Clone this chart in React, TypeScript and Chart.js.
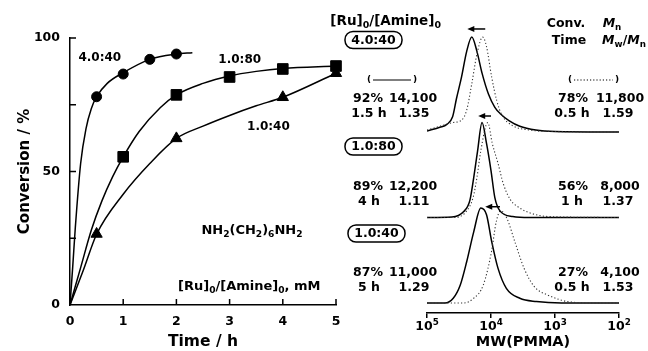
import React, { useEffect, useRef } from 'react';
import { Chart, registerables } from 'chart.js';

Chart.register(...registerables);

const FONT = '"DejaVu Sans", "Liberation Sans", Arial, sans-serif';

// ---------- Left panel: conversion vs time ----------
const timeTickValues = [0, 1, 2, 3, 4, 5];
const convTickValues = [0, 25, 50, 75, 100];
const convTickLabels = ['0', '', '50', '', '100'];

const time4040 = [0.5, 1, 1.5, 2];
const conv4040 = [78, 86.5, 92, 94];
const time1080 = [1, 2, 3, 4, 5];
const conv1080 = [55.5, 78.7, 85.4, 88.4, 89.5];
const time1040 = [0.5, 2, 4, 5];
const conv1040 = [26.6, 62.4, 77.8, 86.8];

// fitted curves
const fitTime4040 = [0, 0.05, 0.1, 0.2, 0.3, 0.4, 0.5, 0.7, 1, 1.5, 2, 2.3];
const fitConv4040 = [0, 14, 29, 53, 66, 73.5, 78, 83, 87, 92, 94, 94.5];
const fitTime1080 = [0, 0.2, 0.4, 0.6, 0.8, 1, 1.3, 1.7, 2, 2.5, 3, 3.5, 4, 5];
const fitConv1080 = [0, 14, 28, 39, 48, 55.5, 65, 74, 78.7, 83, 85.8, 87.5, 88.6, 89.5];
const fitTime1040 = [0, 0.25, 0.5, 1, 1.5, 2, 2.5, 3, 3.5, 4, 5];
const fitConv1040 = [0, 13, 26.5, 41.5, 53, 62.4, 67, 71, 74.6, 77.8, 86.8];

// ---------- Right panel: GPC traces ----------
const mwTickValues = [5, 4, 3, 2];
const panelNames = ['4.0:40', '1.0:80', '1.0:40'];
const panelBaseline = [2, 1, 0];
const peakHeight = 1.11;

// solid = later sample, dotted = earlier sample
const topSolidLogM = [5.0, 4.8, 4.69, 4.6, 4.54, 4.46, 4.38, 4.3, 4.22, 4.14, 4.04, 3.94, 3.85, 3.72, 3.55, 3.3, 3.0, 2.0];
const topSolidH = [0.01, 0.05, 0.08, 0.16, 0.35, 0.58, 0.85, 1.0, 0.85, 0.62, 0.4, 0.26, 0.19, 0.12, 0.06, 0.02, 0.005, 0];
const topDotLogM = [5.0, 4.8, 4.59, 4.46, 4.38, 4.3, 4.22, 4.13, 4.07, 3.99, 3.91, 3.83, 3.67, 3.39, 3.0, 2.0];
const topDotH = [0.02, 0.06, 0.1, 0.125, 0.23, 0.51, 0.82, 1.0, 0.9, 0.58, 0.33, 0.18, 0.07, 0.02, 0.005, 0];

const midSolidLogM = [5.0, 4.61, 4.43, 4.33, 4.27, 4.21, 4.14, 4.07, 4.0, 3.94, 3.86, 3.66, 3.4, 2.0];
const midSolidH = [0, 0.005, 0.06, 0.18, 0.42, 0.7, 1.0, 0.78, 0.495, 0.21, 0.07, 0.01, 0, 0];
const midDotLogM = [5.0, 4.55, 4.38, 4.28, 4.22, 4.16, 4.05, 3.98, 3.89, 3.81, 3.7, 3.55, 3.4, 3.1, 2.0];
const midDotH = [0, 0, 0.07, 0.21, 0.42, 0.7, 1.0, 0.78, 0.57, 0.36, 0.19, 0.1, 0.05, 0.01, 0];

const botSolidLogM = [5.0, 4.72, 4.59, 4.48, 4.38, 4.27, 4.16, 4.07, 3.99, 3.89, 3.76, 3.55, 3.29, 2.9, 2.0];
const botSolidH = [0, 0, 0.05, 0.19, 0.435, 0.75, 1.0, 0.93, 0.65, 0.365, 0.155, 0.05, 0.015, 0, 0];
const botDotLogM = [5.0, 4.43, 4.27, 4.12, 3.99, 3.92, 3.85, 3.75, 3.63, 3.48, 3.32, 3.1, 2.8, 2.38, 2.0];
const botDotH = [0, 0, 0.05, 0.19, 0.55, 0.85, 0.97, 0.89, 0.65, 0.36, 0.17, 0.08, 0.015, 0, 0];

// arrows (shift of the peak), in logM, and level above each baseline
const arrowFromLogM = [4.09, 4.0, 3.86];
const arrowToLogM = [4.37, 4.2, 4.09];
const arrowLevel = [1.205, 1.187, 1.126];

// results
const solidConv = ['92%', '89%', '87%'];
const solidMn = ['14,100', '12,200', '11,000'];
const solidTime = ['1.5 h', '4 h', '5 h'];
const solidPdi = ['1.35', '1.11', '1.29'];
const dotConv = ['78%', '56%', '27%'];
const dotMn = ['11,800', '8,000', '4,100'];
const dotTime = ['0.5 h', '1 h', '0.5 h'];
const dotPdi = ['1.59', '1.37', '1.53'];

type Seg = { t: string; s?: 'sub' | 'sup'; i?: boolean };

function segFont(seg: Seg, size: number) {
  const sz = seg.s ? size * 0.7 : size;
  return `${seg.i ? 'italic ' : ''}bold ${sz}px ${FONT}`;
}

function drawRich(ctx: CanvasRenderingContext2D, segs: Seg[], x: number, y: number, align: 'left' | 'center' | 'right', size: number) {
  let w = 0;
  for (const s of segs) {
    ctx.font = segFont(s, size);
    w += ctx.measureText(s.t).width;
  }
  let cx = align === 'left' ? x : align === 'center' ? x - w / 2 : x - w;
  ctx.textAlign = 'left';
  ctx.textBaseline = 'middle';
  ctx.fillStyle = '#000';
  for (const s of segs) {
    ctx.font = segFont(s, size);
    const dy = s.s === 'sub' ? size * 0.32 : s.s === 'sup' ? -size * 0.38 : 0;
    ctx.fillText(s.t, cx, y + dy);
    cx += ctx.measureText(s.t).width;
  }
}

function drawText(ctx: CanvasRenderingContext2D, t: string, x: number, y: number, size: number, align: CanvasTextAlign = 'center') {
  ctx.font = `bold ${size}px ${FONT}`;
  ctx.textAlign = align;
  ctx.textBaseline = 'middle';
  ctx.fillStyle = '#000';
  ctx.fillText(t, x, y);
}

const leftDecor = {
  id: 'leftDecor',
  afterDraw(chart: any) {
    const { ctx, chartArea } = chart;
    const x = chart.scales.x;
    const y = chart.scales.y;
    ctx.save();
    ctx.strokeStyle = '#000';
    ctx.lineWidth = 1.5;
    ctx.beginPath();
    for (const t of x.ticks) {
      if (t.value === 0) continue;
      const px = x.getPixelForValue(t.value);
      ctx.moveTo(px, chartArea.bottom);
      ctx.lineTo(px, chartArea.bottom - 6);
    }
    for (const t of y.ticks) {
      if (t.value === 0) continue;
      const py = y.getPixelForValue(t.value);
      ctx.moveTo(chartArea.left, py);
      ctx.lineTo(chartArea.left + 6, py);
    }
    ctx.stroke();
    const at = (xv: number, yv: number) => [x.getPixelForValue(xv), y.getPixelForValue(yv)];
    let p = at(0.56, 92.5);
    drawText(ctx, '4.0:40', p[0], p[1], 12);
    p = at(3.19, 91.8);
    drawText(ctx, '1.0:80', p[0], p[1], 12);
    p = at(3.73, 66.7);
    drawText(ctx, '1.0:40', p[0], p[1], 12);
    p = at(3.42, 28);
    drawRich(ctx, [{ t: 'NH' }, { t: '2', s: 'sub' }, { t: '(CH' }, { t: '2', s: 'sub' }, { t: ')' }, { t: '6', s: 'sub' }, { t: 'NH' }, { t: '2', s: 'sub' }], p[0], p[1], 'center', 13);
    p = at(3.37, 6.8);
    drawRich(ctx, [{ t: '[Ru]' }, { t: '0', s: 'sub' }, { t: '/[Amine]' }, { t: '0', s: 'sub' }, { t: ', mM' }], p[0], p[1], 'center', 13);
    ctx.restore();
  },
};

function roundBox(ctx: CanvasRenderingContext2D, x0: number, y0: number, x1: number, y1: number, r: number) {
  ctx.beginPath();
  ctx.moveTo(x0 + r, y0);
  ctx.lineTo(x1 - r, y0);
  ctx.arcTo(x1, y0, x1, y0 + r, r);
  ctx.lineTo(x1, y1 - r);
  ctx.arcTo(x1, y1, x1 - r, y1, r);
  ctx.lineTo(x0 + r, y1);
  ctx.arcTo(x0, y1, x0, y1 - r, r);
  ctx.lineTo(x0, y0 + r);
  ctx.arcTo(x0, y0, x0 + r, y0, r);
  ctx.closePath();
  ctx.stroke();
}

const rightDecor = {
  id: 'rightDecor',
  afterDraw(chart: any) {
    const { ctx, chartArea } = chart;
    const x = chart.scales.x;
    const y = chart.scales.y;
    ctx.save();
    for (const v of mwTickValues) {
      const px = x.getPixelForValue(v);
      drawRich(ctx, [{ t: '10' }, { t: String(v), s: 'sup' }], px, chartArea.bottom + 14, 'center', 12.5);
    }
    ctx.strokeStyle = '#000';
    ctx.fillStyle = '#000';
    ctx.lineWidth = 1.5;
    for (let i = 0; i < 3; i++) {
      const yy = y.getPixelForValue(panelBaseline[i] + arrowLevel[i]);
      const x1 = x.getPixelForValue(arrowFromLogM[i]);
      const x2 = x.getPixelForValue(arrowToLogM[i]);
      ctx.beginPath();
      ctx.moveTo(x1, yy);
      ctx.lineTo(x2 + 5, yy);
      ctx.stroke();
      ctx.beginPath();
      ctx.moveTo(x2, yy);
      ctx.lineTo(x2 + 7, yy - 3);
      ctx.lineTo(x2 + 7, yy + 3);
      ctx.closePath();
      ctx.fill();
    }
    drawRich(ctx, [{ t: '[Ru]' }, { t: '0', s: 'sub' }, { t: '/[Amine]' }, { t: '0', s: 'sub' }], 441, 21, 'right', 13.5);
    drawText(ctx, 'Conv.', 566, 24, 12.5);
    drawRich(ctx, [{ t: 'M', i: true }, { t: 'n', s: 'sub' }], 612, 24, 'center', 12.5);
    drawText(ctx, 'Time', 569, 41, 12.5);
    drawRich(ctx, [{ t: 'M', i: true }, { t: 'w', s: 'sub' }, { t: '/' }, { t: 'M', i: true }, { t: 'n', s: 'sub' }], 624, 41, 'center', 12.5);
    ctx.lineWidth = 1.2;
    drawText(ctx, '(', 369, 80, 9);
    drawText(ctx, ')', 415, 80, 9);
    ctx.beginPath();
    ctx.moveTo(373, 80);
    ctx.lineTo(411, 80);
    ctx.stroke();
    drawText(ctx, '(', 570, 80, 9);
    drawText(ctx, ')', 617, 80, 9);
    ctx.save();
    ctx.setLineDash([1.2, 2]);
    ctx.beginPath();
    ctx.moveTo(574, 80);
    ctx.lineTo(613, 80);
    ctx.stroke();
    ctx.restore();
    const boxY = [40, 146.5, 233.5];
    const boxX = [373.5, 373.5, 376.5];
    const row1 = [99, 187, 273];
    const row2 = [114, 202, 288];
    ctx.lineWidth = 1.5;
    for (let i = 0; i < 3; i++) {
      roundBox(ctx, boxX[i] - 28.5, boxY[i] - 8.5, boxX[i] + 28.5, boxY[i] + 8.5, 8);
      drawText(ctx, panelNames[i], boxX[i], boxY[i] + 0.5, 12.5);
      drawText(ctx, solidConv[i], 368, row1[i], 12.5);
      drawText(ctx, solidMn[i], 413, row1[i], 12.5);
      drawText(ctx, solidTime[i], 369, row2[i], 12.5);
      drawText(ctx, solidPdi[i], 414, row2[i], 12.5);
      drawText(ctx, dotConv[i], 573, row1[i], 12.5);
      drawText(ctx, dotMn[i], 620, row1[i], 12.5);
      drawText(ctx, dotTime[i], 572, row2[i], 12.5);
      drawText(ctx, dotPdi[i], 618, row2[i], 12.5);
    }
    ctx.restore();
  },
};

function trace(logM: number[], h: number[], base: number) {
  return logM.map((m, i) => ({ x: m, y: base + peakHeight * h[i] }));
}

function pts(xs: number[], ys: number[]) {
  return xs.map((v, i) => ({ x: v, y: ys[i] }));
}

export default function App() {
  const leftRef = useRef<HTMLCanvasElement>(null);
  const rightRef = useRef<HTMLCanvasElement>(null);

  useEffect(() => {
    document.body.style.margin = '0';
    document.body.style.background = '#fff';
    const curve = (data: any[]) => ({
      data,
      showLine: true,
      borderColor: '#000',
      borderWidth: 1.5,
      pointRadius: 0,
      cubicInterpolationMode: 'monotone',
      clip: false,
    });
    const marks = (data: any[], style: string, r: number) => ({
      data,
      showLine: false,
      pointStyle: style,
      pointRadius: r,
      backgroundColor: '#000',
      borderColor: '#000',
      borderWidth: 1,
      clip: false,
    });
    const left = new Chart(leftRef.current!, {
      type: 'scatter',
      data: {
        datasets: [
          curve(pts(fitTime4040, fitConv4040)),
          curve(pts(fitTime1080, fitConv1080)),
          curve(pts(fitTime1040, fitConv1040)),
          marks(pts(time4040, conv4040), 'circle', 5),
          marks(pts(time1080, conv1080), 'rect', 7.5),
          marks(pts(time1040, conv1040), 'triangle', 6.5),
        ] as any,
      },
      options: {
        animation: false,
        responsive: false,
        devicePixelRatio: 1,
        events: [],
        layout: { padding: { left: 0, top: 38, right: 312, bottom: 0 } },
        plugins: { legend: { display: false }, tooltip: { enabled: false } },
        scales: {
          x: {
            type: 'linear',
            min: 0,
            max: 5,
            afterBuildTicks: (s: any) => { s.ticks = timeTickValues.map((v) => ({ value: v })); },
            afterFit: (s: any) => { s.height = 46; },
            grid: { display: false, drawTicks: false },
            border: { display: true, color: '#000', width: 1.5 },
            ticks: { color: '#000', padding: 9, font: { family: FONT, size: 12.5, weight: 'bold' }, maxRotation: 0, autoSkip: false },
            title: { display: true, text: 'Time / h', color: '#000', padding: { top: 0, bottom: 0 }, font: { family: FONT, size: 15.5, weight: 'bold' } },
          },
          y: {
            type: 'linear',
            min: 0,
            max: 100,
            afterBuildTicks: (s: any) => { s.ticks = convTickValues.map((v) => ({ value: v })); },
            afterFit: (s: any) => { s.width = 70; },
            grid: { display: false, drawTicks: false },
            border: { display: true, color: '#000', width: 1.5 },
            ticks: {
              color: '#000',
              padding: 10,
              autoSkip: false,
              font: { family: FONT, size: 12.5, weight: 'bold' },
              callback: (v: any) => convTickLabels[convTickValues.indexOf(Number(v))] ?? '',
            },
            title: { display: true, text: 'Conversion / %', color: '#000', padding: { top: 16, bottom: 0 }, font: { family: FONT, size: 15, weight: 'bold' } },
          },
        },
      } as any,
      plugins: [leftDecor],
    });

    const solid = (data: any[]) => ({
      data,
      showLine: true,
      borderColor: '#000',
      borderWidth: 1.5,
      pointRadius: 0,
      cubicInterpolationMode: 'monotone',
    });
    const dotted = (data: any[]) => ({
      data,
      showLine: true,
      borderColor: '#333',
      borderWidth: 1.1,
      borderDash: [1.2, 2.2],
      pointRadius: 0,
      cubicInterpolationMode: 'monotone',
    });
    const right = new Chart(rightRef.current!, {
      type: 'scatter',
      data: {
        datasets: [
          dotted(trace(topDotLogM, topDotH, panelBaseline[0])),
          solid(trace(topSolidLogM, topSolidH, panelBaseline[0])),
          dotted(trace(midDotLogM, midDotH, panelBaseline[1])),
          solid(trace(midSolidLogM, midSolidH, panelBaseline[1])),
          dotted(trace(botDotLogM, botDotH, panelBaseline[2])),
          solid(trace(botSolidLogM, botSolidH, panelBaseline[2])),
        ] as any,
      },
      options: {
        animation: false,
        responsive: false,
        devicePixelRatio: 1,
        events: [],
        layout: { padding: { left: 427, top: 20, right: 29, bottom: 0 } },
        plugins: { legend: { display: false }, tooltip: { enabled: false } },
        scales: {
          x: {
            type: 'linear',
            min: 2,
            max: 5,
            reverse: true,
            afterBuildTicks: (s: any) => { s.ticks = mwTickValues.map((v) => ({ value: v })); },
            afterFit: (s: any) => { s.height = 38; },
            grid: { display: true, drawOnChartArea: false, drawTicks: true, tickLength: 5, color: '#000', lineWidth: 1.5 },
            border: { display: true, color: '#000', width: 1.5 },
            ticks: { display: false },
            title: { display: true, text: 'MW(PMMA)', color: '#000', padding: { top: 0, bottom: 0 }, font: { family: FONT, size: 14.5, weight: 'bold' } },
          },
          y: { type: 'linear', display: false, min: -0.117, max: 3.31 },
        },
      } as any,
      plugins: [rightDecor],
    });
    return () => {
      left.destroy();
      right.destroy();
    };
  }, []);

  const cstyle: React.CSSProperties = { position: 'absolute', left: 0, top: 0, width: 648, height: 351 };
  return (
    <div style={{ position: 'relative', width: 648, height: 351, background: '#fff' }}>
      <canvas ref={leftRef} width={648} height={351} style={cstyle} />
      <canvas ref={rightRef} width={648} height={351} style={cstyle} />
    </div>
  );
}
